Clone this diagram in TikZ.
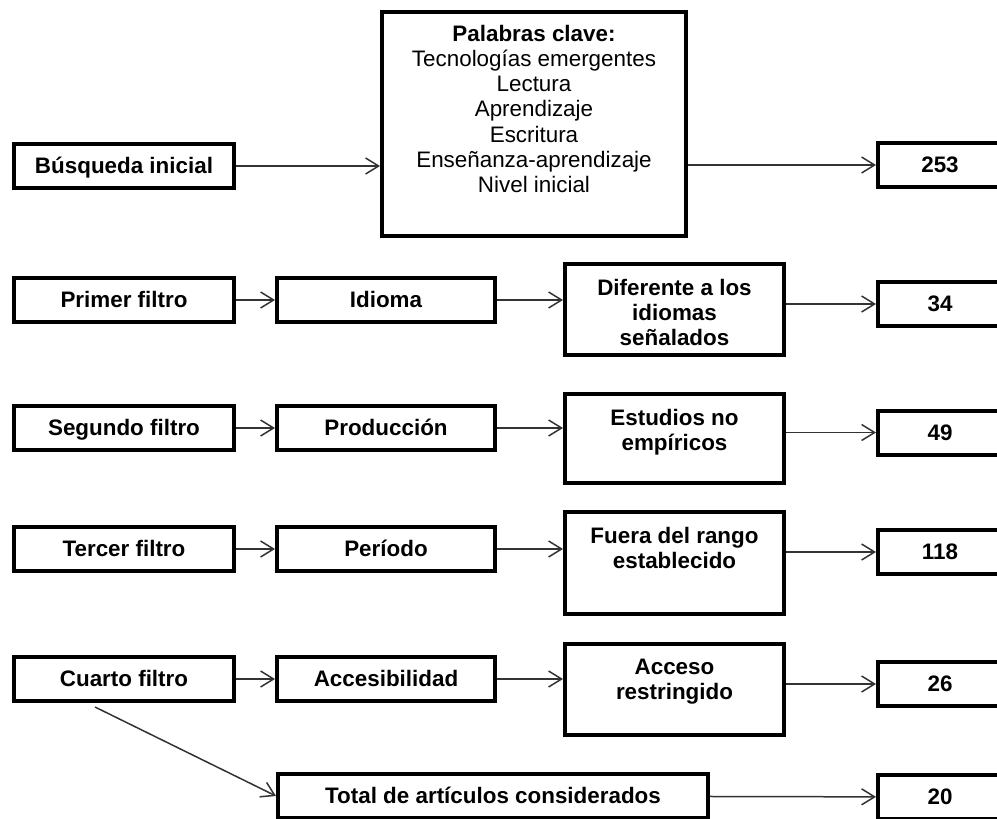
\documentclass[tikz,border=0pt]{standalone}
\usepackage{fontspec}
\setmainfont{Liberation Sans}
\usetikzlibrary{arrows.meta}

\begin{document}
\begin{tikzpicture}[
  x=0.02cm, y=-0.02cm,
  font=\fontsize{12.75}{14.3}\selectfont,
  box/.style={draw, line width=0.08cm, inner sep=0, minimum height=0.88cm,
    text height=10pt, text depth=1pt,
    font=\fontsize{12.75}{14.3}\selectfont\bfseries},
  stepbox/.style={box, minimum width=4.4cm},
  critbox/.style={box, minimum width=4.36cm},
  tallbox/.style={box, minimum width=4.38cm},
  countbox/.style={box, minimum width=2.48cm},
  txt/.style={align=center, anchor=north, inner sep=0, yshift=-0.34cm,
    font=\fontsize{12.75}{14.3}\selectfont\bfseries},
  keytxt/.style={align=center, anchor=north, inner sep=0, yshift=-0.3cm,
    font=\fontsize{12.75}{14.3}\selectfont},
  link/.style={draw=black!80, line width=0.03cm,
    -{Straight Barb[length=0.26cm, width=0.32cm]}}
]
\useasboundingbox (0,0) rectangle (997,818);
\clip (0,0) rectangle (997,818);

% search terms
\node[box, minimum width=6.08cm, minimum height=4.48cm,
  label={[keytxt]north:\textbf{Palabras clave:}\\Tecnologías emergentes\\Lectura\\Aprendizaje\\Escritura\\Enseñanza-aprendizaje\\Nivel inicial}]
  (clave) at (534,124) {};

% steps
\node[stepbox] (busq) at (124,166) {Búsqueda inicial};
\node[stepbox] (f1) at (124,300) {Primer filtro};
\node[stepbox] (f2) at (124,428) {Segundo filtro};
\node[stepbox] (f3) at (124,549) {Tercer filtro};
\node[stepbox] (f4) at (124,679) {Cuarto filtro};

% criteria
\node[critbox] (idioma) at (386,300) {Idioma};
\node[critbox] (prod) at (386,428) {Producción};
\node[critbox] (periodo) at (386,549) {Período};
\node[critbox] (acces) at (386,679) {Accesibilidad};

% reasons for exclusion
\node[tallbox, minimum height=1.82cm,
  label={[txt]north:Diferente a los\\idiomas\\señalados}] (difer) at (674.5,309.5) {};
\node[tallbox, minimum height=1.78cm,
  label={[txt]north:Estudios no\\empíricos}] (estud) at (674.5,438.5) {};
\node[tallbox, minimum height=2.04cm,
  label={[txt]north:Fuera del rango\\establecido}] (fuera) at (674.5,563) {};
\node[tallbox, minimum height=1.82cm,
  label={[txt]north:Acceso\\restringido}] (restr) at (674.5,689.5) {};

\node[box, minimum width=8.6cm] (total) at (493,796) {Total de artículos considerados};

% counts
\node[countbox] (n0) at (940,165) {253};
\node[countbox] (n1) at (940,304) {34};
\node[countbox] (n2) at (940,432.5) {49};
\node[countbox] (n3) at (940,552) {118};
\node[countbox] (n4) at (940,684) {26};
\node[countbox] (n5) at (940,797) {20};

\coordinate (tail) at (95,707);

\draw[link] (busq) -- (busq -| clave.west);
\draw[link] (clave.east |- n0) -- (n0);

\draw[link] (f1) -- (idioma);
\draw[link] (idioma) -- (idioma -| difer.west);
\draw[link] (difer.east |- n1) -- (n1);

\draw[link] (f2) -- (prod);
\draw[link] (prod) -- (prod -| estud.west);
\draw[link] (estud.east |- n2) -- (n2);

\draw[link] (f3) -- (periodo);
\draw[link] (periodo) -- (periodo -| fuera.west);
\draw[link] (fuera.east |- n3) -- (n3);

\draw[link] (f4) -- (acces);
\draw[link] (acces) -- (acces -| restr.west);
\draw[link] (restr.east |- n4) -- (n4);

\draw[link] (tail) -- (total.west);
\draw[link] (total) -- (n5);

\end{tikzpicture}
\end{document}
